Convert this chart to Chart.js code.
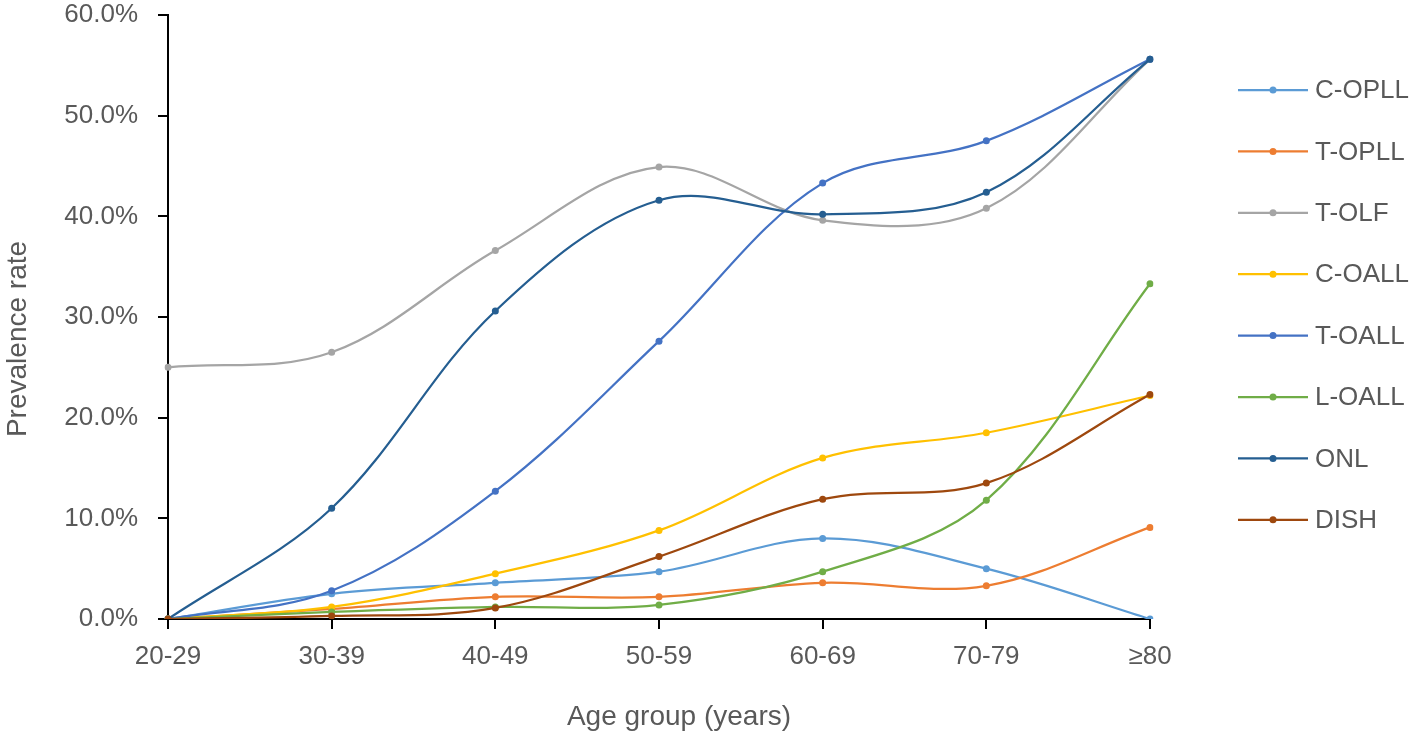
<!DOCTYPE html>
<html>
<head>
<meta charset="utf-8">
<script src="https://cdn.jsdelivr.net/npm/chart.js@4.4.1/dist/chart.umd.min.js"></script>
<style>
  html, body { margin: 0; padding: 0; background: #fff; }
  #wrap { width: 1418px; height: 737px; position: relative; }
</style>
</head>
<body>
<div id="wrap"><canvas id="prev-chart"></canvas></div>
<script>
var ageGroups = ["20-29", "30-39", "40-49", "50-59", "60-69", "70-79", "\u226580"];
var seriesNames = ["C-OPLL", "T-OPLL", "T-OLF", "C-OALL", "T-OALL", "L-OALL", "ONL", "DISH"];
var seriesColors = ["#5B9BD5", "#ED7D31", "#A5A5A5", "#FFC000", "#4472C4", "#70AD47", "#255E91", "#9E480E"];

// prevalence in percent
var cOpll = [0, 2.5, 3.6, 4.7, 8.0, 5.0, 0];
var tOpll = [0, 1.0, 2.2, 2.2, 3.6, 3.3, 9.1];
var tOlf  = [25.0, 26.5, 36.6, 44.9, 39.6, 40.8, 55.6];
var cOall = [0, 1.2, 4.5, 8.8, 16.0, 18.5, 22.2];
var tOall = [0, 2.8, 12.7, 27.6, 43.3, 47.5, 55.6];
var lOall = [0, 0.7, 1.2, 1.4, 4.7, 11.8, 33.3];
var onl   = [0, 11.0, 30.6, 41.6, 40.2, 42.4, 55.6];
var dish  = [0, 0.3, 1.1, 6.2, 11.9, 13.5, 22.3];
var allSeries = [cOpll, tOpll, tOlf, cOall, tOall, lOall, onl, dish];

var yTicks = [0, 10, 20, 30, 40, 50, 60];

var textColor = "#595959";
var fontFam = "'Liberation Sans', Arial, sans-serif";

var datasets = allSeries.map(function (vals, i) {
    return {
        label: seriesNames[i],
        data: vals,
        borderColor: seriesColors[i],
        backgroundColor: seriesColors[i],
        borderWidth: 2.25,
        pointRadius: 3.5,
        pointHoverRadius: 3.5,
        pointBorderWidth: 0,
        tension: 0.35,
        order: -i
    };
});

// axis titles + legend drawn by hand so they sit where the original has them
var extras = {
    id: "extras",
    afterDraw: function (chart) {
        var ctx = chart.ctx;
        ctx.save();
        ctx.fillStyle = textColor;
        ctx.font = "28px " + fontFam;
        ctx.textAlign = "center";
        ctx.textBaseline = "middle";
        ctx.fillText("Age group (years)", 679, 717);
        ctx.translate(18, 339);
        ctx.rotate(-Math.PI / 2);
        ctx.fillText("Prevalence rate", 0, 0);
        ctx.restore();

        ctx.save();
        ctx.font = "26px " + fontFam;
        ctx.textBaseline = "middle";
        ctx.textAlign = "left";
        for (var i = 0; i < seriesNames.length; i++) {
            var y = 90 + i * 61.4;
            ctx.strokeStyle = seriesColors[i];
            ctx.lineWidth = 2.25;
            ctx.beginPath();
            ctx.moveTo(1238, y);
            ctx.lineTo(1308, y);
            ctx.stroke();
            ctx.fillStyle = seriesColors[i];
            ctx.beginPath();
            ctx.arc(1273, y, 3.5, 0, Math.PI * 2);
            ctx.fill();
            ctx.fillStyle = textColor;
            ctx.fillText(seriesNames[i], 1315, y + 1);
        }
        ctx.restore();
    }
};

var config = {
    type: "line",
    data: { labels: ageGroups, datasets: datasets },
    options: {
        responsive: true,
        maintainAspectRatio: false,
        animation: false,
        layout: { padding: { top: 0, right: 268, left: 0, bottom: 0 } },
        plugins: {
            legend: { display: false },
            tooltip: { enabled: false }
        },
        scales: {
            x: {
                offset: false,
                grid: { drawOnChartArea: false, drawTicks: true, tickLength: 10, color: "#000", lineWidth: 2 },
                border: { color: "#000", width: 2 },
                ticks: { color: textColor, font: { family: fontFam, size: 26 }, padding: 12, maxRotation: 0 },
                afterFit: function (s) { s.height = 118; }
            },
            y: {
                min: 0,
                max: 60,
                afterBuildTicks: function (s) { s.ticks = yTicks.map(function (v) { return { value: v }; }); },
                grid: { drawOnChartArea: false, drawTicks: true, tickLength: 10, color: "#000", lineWidth: 2 },
                border: { color: "#000", width: 2 },
                ticks: {
                    color: textColor,
                    font: { family: fontFam, size: 26 },
                    padding: 20,
                    callback: function (v) { return v.toFixed(1) + "%"; }
                },
                afterFit: function (s) { s.width = 168; s.paddingTop = 15; }
            }
        }
    },
    plugins: [extras]
};

var prevChart = new Chart(document.getElementById("prev-chart"), config);
</script>
</body>
</html>
